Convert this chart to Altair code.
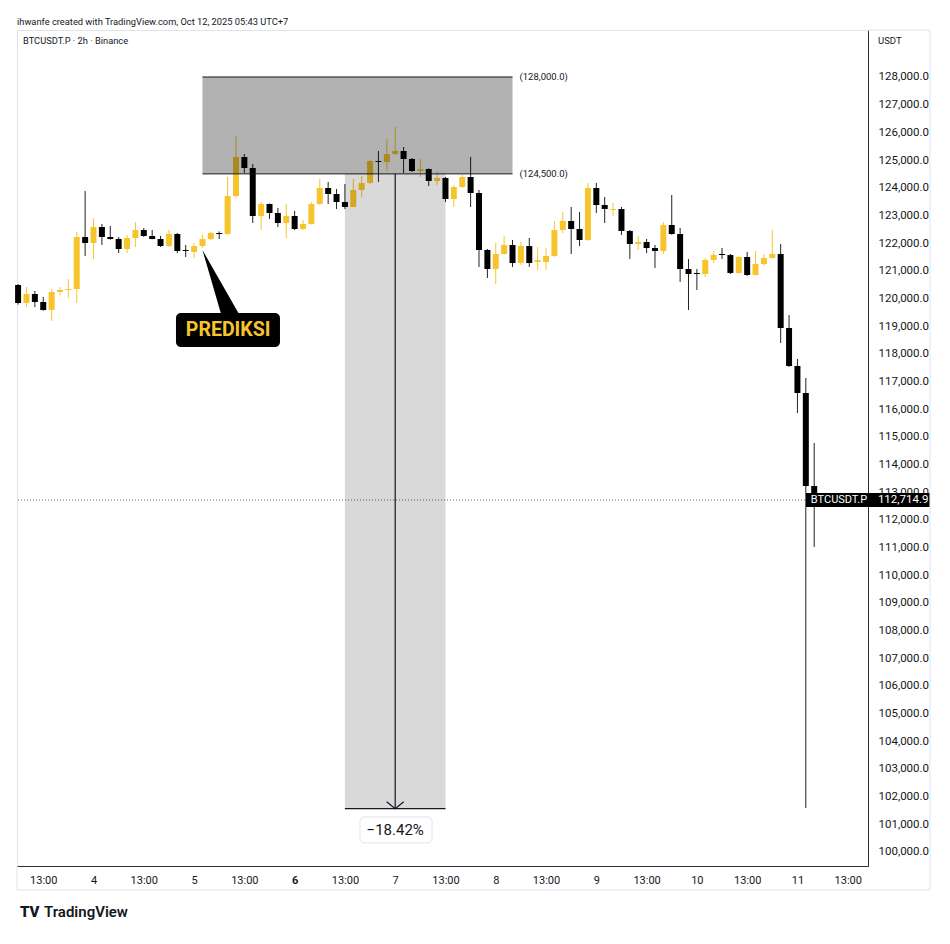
import altair as alt
import pandas as pd

FONT = "Roboto"
UP = "#f7c52b"
DOWN = "#000000"
INK = "#131722"

# ---- candle data (2h bars, bar 1 = Oct 3 07:00 UTC+7) ----
bars = list(range(1, 97))
opens = [120486, 119835, 120160, 119871, 119582, 120233, 120305, 120341, 122220, 122003,
         122581, 122220, 122147, 121786, 122183, 122473, 122256, 122147, 121894, 122328,
         121750, 121678, 121894, 122147, 122364, 122328, 123701, 125110, 124712, 122978,
         123412, 123087, 122725, 122978, 122509, 122689, 123412, 123990, 123773, 123484,
         123303, 123918, 124171, 124965, 124929, 125218, 125327, 125038, 124604, 124676,
         124243, 124351, 123592, 124026, 124387, 123809, 121750, 121064, 121605, 121931,
         121280, 121894, 121317, 121317, 121533, 122473, 122798, 122509, 122111, 123990,
         123376, 123195, 123231, 122436, 121967, 122039, 121822, 121714, 122653, 122328,
         121064, 120919, 120883, 121389, 121605, 121569, 120919, 121497, 120847, 121244,
         121461, 121605, 118932, 117559, 116584, 113224]
highs = [120520, 120413, 120269, 120052, 120341, 120413, 120702, 122400, 123882, 122906,
         122689, 122617, 122220, 122292, 122762, 122545, 122473, 122256, 122473, 122364,
         121931, 122003, 122292, 122400, 122420, 124387, 125868, 125218, 124857, 123484,
         123430, 123267, 123412, 123159, 122834, 123484, 124315, 124207, 123954, 124134,
         124315, 124423, 125001, 125327, 125760, 126194, 125471, 125074, 125038, 124700,
         124604, 124387, 124098, 124459, 125110, 123918, 121786, 122003, 122256, 122111,
         122039, 122183, 121858, 121822, 122798, 123123, 123303, 123123, 124171, 124171,
         123665, 123448, 123303, 122473, 122256, 122147, 121931, 122762, 123737, 122545,
         121425, 121064, 121461, 121714, 121822, 121605, 121520, 121678, 121714, 121605,
         122473, 121967, 119401, 117812, 117126, 114777]
lows = [119780, 119690, 119690, 119560, 119185, 120124, 120016, 119835, 121533, 121425,
        121931, 122120, 121641, 121641, 121858, 122220, 122140, 121858, 121858, 121641,
        121497, 121461, 121822, 122111, 122147, 122300, 123650, 124532, 122725, 122473,
        122870, 122581, 122183, 122473, 122473, 122670, 123376, 123412, 123231, 123231,
        123290, 123665, 124134, 124207, 124604, 125190, 124532, 124570, 124387, 124062,
        124100, 123484, 123303, 123990, 123303, 121136, 120738, 120522, 121580, 121136,
        121208, 121136, 121028, 121028, 121500, 122364, 121605, 121894, 122075, 123087,
        122725, 122978, 122292, 121425, 121750, 121641, 121100, 121605, 122300, 120594,
        119582, 120305, 120775, 121280, 121425, 120883, 120900, 120811, 120830, 121172,
        121440, 118390, 117523, 115861, 101591, 111020]
closes = [119835, 120160, 119871, 119582, 120233, 120305, 120341, 122220, 122003, 122581,
          122220, 122147, 121786, 122183, 122473, 122256, 122147, 121894, 122328, 121714,
          121714, 121894, 122147, 122364, 122328, 123701, 125110, 124712, 122978, 123412,
          123087, 122725, 122978, 122509, 122689, 123412, 123990, 123773, 123484, 123303,
          123918, 124171, 124965, 124929, 125218, 125327, 125038, 124604, 124676, 124243,
          124351, 123592, 124026, 124387, 123809, 121750, 121064, 121605, 121931, 121280,
          121894, 121280, 121389, 121533, 122473, 122798, 122509, 122111, 123990, 123376,
          123231, 123231, 122436, 121967, 122039, 121822, 121714, 122653, 122328, 121064,
          120883, 120883, 121389, 121569, 121569, 120919, 121497, 120847, 121244, 121461,
          121605, 118932, 117559, 116584, 113224, 112714.9]

# annotation values
zone_top = 128000
zone_bottom = 124500
zone_bars = [23, 60]
target_price = 101567
measure_bars = [40, 46, 52]
pct_text = "\u221218.42%"
last_price = 112714.9
callout_text = "PREDIKSI"
callout_tip = [23, 121750]

y_ticks = list(range(100000, 128001, 1000))
x_ticks = list(range(4, 101, 6))

df = pd.DataFrame({"bar": bars, "open": opens, "high": highs, "low": lows, "close": closes})
df["dir"] = ["up" if c >= o else "down" for o, c in zip(opens, closes)]

xs = alt.Scale(domain=[0.869, 102.42], nice=False, zero=False, padding=0)
ys = alt.Scale(domain=[99494, 129698], nice=False, zero=False, padding=0)

xaxis = alt.Axis(
    values=x_ticks, title=None, grid=False, ticks=False, domainColor="#2a2e39",
    labelExpr="(datum.value - 4) % 12 == 0 ? '13:00' : '' + (3 + (datum.value + 2) / 12)",
    labelColor=INK, labelFont=FONT, labelFontSize=11, labelPadding=8,
    labelFontWeight={"condition": {"test": "datum.value == 34", "value": "bold"}, "value": "normal"},
    labelOverlap=False, labelFlush=False,
)
yaxis = alt.Axis(
    values=y_ticks, format=",.1f", orient="right", title=None, grid=False, ticks=False,
    domainColor="#2a2e39", labelColor=INK, labelFont=FONT, labelFontSize=11.5,
    labelPadding=10, labelOverlap=False, labelFlush=False,
)


def X(f):
    return alt.X(f, scale=xs, axis=xaxis)


def Y(f):
    return alt.Y(f, scale=ys, axis=yaxis)


base = alt.Chart(df)

price_line = alt.Chart(pd.DataFrame({"p": [last_price]})).mark_rule(
    color="#6a6d78", strokeDash=[1, 2], strokeWidth=1).encode(y=Y("p:Q"))

wick_up = base.transform_filter("datum.dir == 'up'").mark_rule(color=UP, strokeWidth=1).encode(
    x=X("bar:Q"), y=Y("low:Q"), y2="high:Q")
wick_dn = base.transform_filter("datum.dir == 'down'").mark_rule(color="#222222", strokeWidth=1).encode(
    x=X("bar:Q"), y=Y("low:Q"), y2="high:Q")
body_up = base.transform_filter("datum.dir == 'up'").mark_bar(color=UP, size=6).encode(
    x=X("bar:Q"), y=Y("open:Q"), y2="close:Q")
body_dn = base.transform_filter("datum.dir == 'down'").mark_bar(color=DOWN, size=6).encode(
    x=X("bar:Q"), y=Y("open:Q"), y2="close:Q")

# dark zone 124,500 - 128,000
zone_df = pd.DataFrame({"x1": [zone_bars[0]], "x2": [zone_bars[1]], "y1": [zone_bottom], "y2": [zone_top]})
zone = alt.Chart(zone_df).mark_rect(color="black", opacity=0.3).encode(
    x=X("x1:Q"), x2="x2:Q", y=Y("y1:Q"), y2="y2:Q")
zl_df = pd.DataFrame({"x1": [zone_bars[0]] * 2, "x2": [zone_bars[1]] * 2, "p": [zone_top, zone_bottom],
                      "lab": ["(128,000.0)", "(124,500.0)"]})
zone_lines = alt.Chart(zl_df).mark_rule(color=INK, strokeWidth=1).encode(
    x=X("x1:Q"), x2="x2:Q", y=Y("p:Q"))
zone_labels = alt.Chart(zl_df).mark_text(align="left", baseline="middle", dx=7, fontSize=9.5,
                                         font=FONT, color=INK).encode(
    x=X("x2:Q"), y=Y("p:Q"), text="lab:N")

# measurement zone
m_df = pd.DataFrame({"x1": [measure_bars[0]], "x2": [measure_bars[2]], "xm": [measure_bars[1]],
                     "y1": [target_price], "y2": [zone_bottom]})
m_rect = alt.Chart(m_df).mark_rect(color="black", opacity=0.15).encode(
    x=X("x1:Q"), x2="x2:Q", y=Y("y1:Q"), y2="y2:Q")
m_bottom = alt.Chart(m_df).mark_rule(color=INK, strokeWidth=1.2).encode(
    x=X("x1:Q"), x2="x2:Q", y=Y("y1:Q"))
m_vert = alt.Chart(m_df).mark_rule(color=INK, strokeWidth=1.2).encode(
    x=X("xm:Q"), y=Y("y1:Q"), y2="y2:Q")
m_arrow = alt.Chart(m_df).mark_point(shape="M-1,-0.8L0,0L1,-0.8", filled=False, color=INK,
                                     strokeWidth=1.2, size=289, opacity=1).encode(
    x=X("xm:Q"), y=Y("y1:Q"))
pb_df = pd.DataFrame({"x1": [41.8], "x2": [50.4], "y1": [100327], "y2": [101266],
                      "xm": [measure_bars[1]], "ym": [100797], "t": [pct_text]})
pct_box = alt.Chart(pb_df).mark_rect(fill="white", stroke="#e0e3eb", strokeWidth=1, cornerRadius=4).encode(
    x=X("x1:Q"), x2="x2:Q", y=Y("y1:Q"), y2="y2:Q")
pct_txt = alt.Chart(pb_df).mark_text(fontSize=15, font=FONT, color=INK, baseline="middle").encode(
    x=X("xm:Q"), y=Y("ym:Q"), text="t:N")

# PREDIKSI callout
c_df = pd.DataFrame({"tx": [callout_tip[0]], "ty": [callout_tip[1]], "x1": [19.84], "x2": [32.25],
                     "y1": [118245], "y2": [119473], "xm": [26.06], "ym": [118860], "t": [callout_text]})
c_tail = alt.Chart(c_df).mark_point(shape="M0,0L0.54,1.86L1.06,1.86Z", filled=True, color="black",
                                    size=4900, opacity=1, strokeWidth=0).encode(
    x=X("tx:Q"), y=Y("ty:Q"))
c_box = alt.Chart(c_df).mark_rect(color="black", cornerRadius=5).encode(
    x=X("x1:Q"), x2="x2:Q", y=Y("y1:Q"), y2="y2:Q")
c_txt = alt.Chart(c_df).mark_text(fontSize=19.5, font=FONT, fontWeight="bold", color=UP, baseline="middle").encode(
    x=X("xm:Q"), y=Y("ym:Q"), text="t:N")

# last price label
lp_df = pd.DataFrame({"x1": [95.02], "x2": [109.8], "y1": [112465], "y2": [112971],
                      "xa": [95.6], "xb": [103.6], "ym": [last_price],
                      "ta": ["BTCUSDT.P"], "tb": ["112,714.9"]})
lp_box = alt.Chart(lp_df).mark_rect(color="black").encode(
    x=X("x1:Q"), x2="x2:Q", y=Y("y1:Q"), y2="y2:Q")
lp_ta = alt.Chart(lp_df).mark_text(align="left", baseline="middle", fontSize=11, font=FONT, color="white").encode(
    x=X("xa:Q"), y=Y("ym:Q"), text="ta:N")
lp_tb = alt.Chart(lp_df).mark_text(align="left", baseline="middle", fontSize=11.5, font=FONT, color="white").encode(
    x=X("xb:Q"), y=Y("ym:Q"), text="tb:N")


def label(txt, x, y, size=11, weight="normal", color=INK):
    return alt.Chart(pd.DataFrame({"t": [txt]})).mark_text(
        align="left", baseline="middle", fontSize=size, font=FONT, fontWeight=weight, color=color
    ).encode(x=alt.value(x), y=alt.value(y), text="t:N")


texts = [
    label("ihwanfe created with TradingView.com, Oct 12, 2025 05:43 UTC+7", 0, -8.5, 9.3),
    label("BTCUSDT.P \u00b7 2h \u00b7 Binance", 6, 10.5, 9.3),
    label("USDT", 861, 11, 9.5),
    label("TV", 3, 882, 15, 900),
    label("TradingView", 27, 882, 15, 600),
]

frame_color = "#e0e3eb"
frame = [
    alt.Chart(pd.DataFrame({"a": [0]})).mark_rule(color=frame_color).encode(
        x=alt.value(851), x2=alt.value(913), y=alt.value(0)),
    alt.Chart(pd.DataFrame({"a": [0]})).mark_rule(color=frame_color).encode(
        x=alt.value(913), y=alt.value(0), y2=alt.value(860)),
    alt.Chart(pd.DataFrame({"a": [0]})).mark_rule(color=frame_color).encode(
        x=alt.value(0), x2=alt.value(913), y=alt.value(860)),
    alt.Chart(pd.DataFrame({"a": [0]})).mark_rule(color=frame_color).encode(
        x=alt.value(0), y=alt.value(836), y2=alt.value(860)),
]

chart = alt.layer(
    price_line, wick_up, wick_dn, body_up, body_dn,
    zone, zone_lines, zone_labels,
    m_rect, m_bottom, m_vert, m_arrow, pct_box, pct_txt,
    c_tail, c_box, c_txt,
    lp_box, lp_ta, lp_tb,
    *frame, *texts,
).properties(
    width=851, height=836,
    padding={"left": 9, "top": 22, "right": 74, "bottom": 70},
    autosize=alt.AutoSizeParams(type="none"),
    background="white",
).configure_view(stroke=frame_color, strokeWidth=1)

chart.save("out.html", embed_options={"renderer": "svg", "actions": False})
